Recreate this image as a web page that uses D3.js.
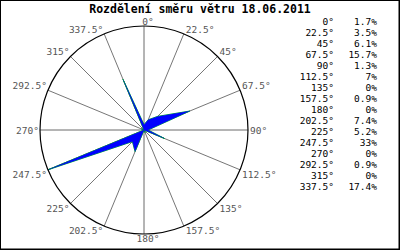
<!DOCTYPE html>
<html><head><meta charset="utf-8">
<script src="https://cdn.jsdelivr.net/npm/d3@7"></script>
<style>body{margin:0;background:#fff}svg{display:block}</style>
</head><body>
<script>
const title = "Rozdělení směru větru 18.06.2011";
const directions = [0, 22.5, 45, 67.5, 90, 112.5, 135, 157.5, 180, 202.5, 225, 247.5, 270, 292.5, 315, 337.5];
const dirLabels = ["0°","22.5°","45°","67.5°","90°","112.5°","135°","157.5°","180°","202.5°","225°","247.5°","270°","292.5°","315°","337.5°"];
const percents = [1.7, 3.5, 6.1, 15.7, 1.3, 7, 0, 0.9, 0, 7.4, 5.2, 33, 0, 0.9, 0, 17.4];
const percentLabels = ["1.7%","3.5%","6.1%","15.7%","1.3%","7%","0%","0.9%","0%","7.4%","5.2%","33%","0%","0.9%","0%","17.4%"];

const W = 400, H = 250, cx = 144, cy = 130, R = 104;
const svg = d3.select("body").append("svg").attr("width", W).attr("height", H);
svg.append("rect").attr("x",0.5).attr("y",0.5).attr("width",W-1.5).attr("height",H-1.5)
  .attr("fill","#fff").attr("stroke","#000").attr("stroke-width",1);
svg.append("line").attr("x1",W-0.5).attr("x2",W-0.5).attr("y1",0).attr("y2",H).attr("stroke","#000");
svg.append("line").attr("x1",0).attr("x2",W).attr("y1",H-0.5).attr("y2",H-0.5).attr("stroke","#000");

svg.append("text").attr("x",200).attr("y",13).attr("text-anchor","middle")
  .attr("font-family","DejaVu Sans Mono").attr("font-weight","bold").attr("font-size","11.5px")
  .attr("fill","#000").text(title);

const g = svg.append("g").attr("transform",`translate(${cx},${cy})`);
const r = d3.scaleLinear().domain([0, d3.max(percents)]).range([0, R]);
const rad = d => d * Math.PI / 180;

// spokes
g.selectAll("line.spoke").data(directions).join("line").attr("class","spoke")
  .attr("x1",0).attr("y1",0)
  .attr("x2",d => R*Math.sin(rad(d))).attr("y2",d => -R*Math.cos(rad(d)))
  .attr("stroke", d => d % 90 === 0 ? "#6a6a6a" : "#666")
  .attr("stroke-width", d => d % 90 === 0 ? 1 : 0.9);

// rose polygon
const line = d3.lineRadial().angle(d => rad(d[0])).radius(d => r(d[1])).curve(d3.curveLinearClosed);
const pts = directions.map((d,i) => [d, percents[i]]);
g.append("path").attr("d", line(pts)).attr("fill","none").attr("stroke","#00d000").attr("stroke-width",1);
g.append("path").attr("d", line(pts)).attr("fill","#0000ff").attr("stroke","#0000ff").attr("stroke-width",0.3);

// circle
g.append("circle").attr("r",R).attr("fill","none").attr("stroke","#000").attr("stroke-width",1.2);

// direction labels
g.selectAll("text.dl").data(directions).join("text").attr("class","dl")
  .attr("font-family","DejaVu Sans Mono").attr("font-size","9.5px").attr("fill","#555")
  .attr("x", d => { const s = Math.sin(rad(d)); return R*s + (s > 0.1 ? 2 : s < -0.1 ? -1 : 4); })
  .attr("y", d => { const c = Math.cos(rad(d)); return -R*c + (c > 0.1 ? -1 : c < -0.1 ? 8 : 3.5); })
  .attr("text-anchor", d => { const s = Math.sin(rad(d)); return s > 0.1 ? "start" : s < -0.1 ? "end" : "middle"; })
  .text((d,i) => dirLabels[i]);

// legend
const leg = svg.append("g").attr("font-family","DejaVu Sans Mono").attr("font-size","9.5px").attr("fill","#000");
leg.selectAll("text.a").data(dirLabels).join("text").attr("class","a")
  .attr("x",334).attr("y",(d,i) => 24.5 + i*11).attr("text-anchor","end").text(d => d);
leg.selectAll("text.v").data(percentLabels).join("text").attr("class","v")
  .attr("x",377).attr("y",(d,i) => 24.5 + i*11).attr("text-anchor","end").text(d => d);
</script>
</body></html>
